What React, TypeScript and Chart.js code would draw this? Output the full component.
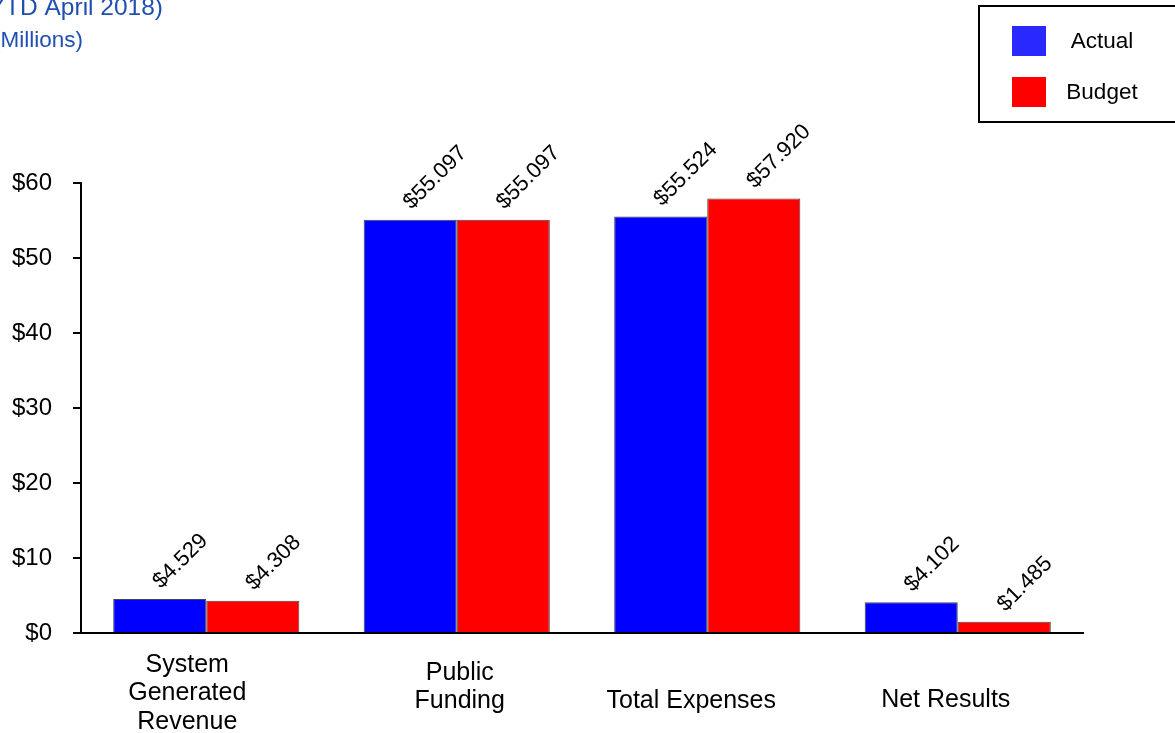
import React, { useEffect, useRef } from "react";
import { Chart, registerables } from "chart.js";

Chart.register(...registerables);

const categories: string[][] = [
  ["System", "Generated", "Revenue"],
  ["Public", "Funding"],
  ["Total Expenses"],
  ["Net Results"],
];
const actualValues = [4.529, 55.097, 55.524, 4.102];
const budgetValues = [4.308, 55.097, 57.92, 1.485];
const seriesNames = ["Actual", "Budget"];
const yTicks = [0, 10, 20, 30, 40, 50, 60];
const titleLines = ["YTD April 2018)", "(Millions)"];

// styles
const FONT = "'Liberation Sans', Arial, sans-serif";
const barColors = ["#0000ff", "#ff0000"];
const legendColors = ["#2828ff", "#ff0000"];
const labelTopOffsets = [32, 40, 68, 67];
const labelDx = [-19, 3, -16, -12];
const LINE_H = 28.5;

const fmt = (v: number) => "$" + v.toFixed(3);

export default function App() {
  const ref = useRef<HTMLCanvasElement | null>(null);

  useEffect(() => {
    if (!ref.current) return;

    const overlay = {
      id: "overlay",
      afterDraw(chart: any) {
        const ctx = chart.ctx as CanvasRenderingContext2D;
        const xs = chart.scales.x;
        const bottom = chart.chartArea.bottom;

        // title (partly cut off)
        ctx.save();
        ctx.fillStyle = "#1f4fb0";
        ctx.textAlign = "right";
        ctx.textBaseline = "alphabetic";
        ctx.font = `24.5px ${FONT}`;
        ctx.fillText(titleLines[0], 163, 15);
        ctx.font = `22.5px ${FONT}`;
        ctx.fillText(titleLines[1], 83, 47);
        ctx.restore();

        // category labels
        ctx.save();
        ctx.fillStyle = "#000";
        ctx.font = `25px ${FONT}`;
        ctx.textAlign = "center";
        ctx.textBaseline = "middle";
        categories.forEach((lines, i) => {
          const x = xs.getPixelForValue(i) + labelDx[i];
          lines.forEach((ln, j) => {
            ctx.fillText(ln, x, bottom + labelTopOffsets[i] + j * LINE_H);
          });
        });
        ctx.restore();

        // value labels
        ctx.save();
        ctx.fillStyle = "#000";
        ctx.font = `22px ${FONT}`;
        ctx.textAlign = "left";
        ctx.textBaseline = "middle";
        chart.data.datasets.forEach((ds: any, di: number) => {
          const meta = chart.getDatasetMeta(di);
          meta.data.forEach((bar: any, i: number) => {
            ctx.save();
            ctx.translate(bar.x - 3, bar.y - 14);
            ctx.rotate(-Math.PI / 4);
            ctx.fillText(fmt(ds.data[i]), 0, 0);
            ctx.restore();
          });
        });
        ctx.restore();

        // legend
        ctx.save();
        ctx.strokeStyle = "#000";
        ctx.lineWidth = 2;
        ctx.strokeRect(979, 6, 220, 116);
        ctx.font = `22.5px ${FONT}`;
        ctx.textAlign = "center";
        ctx.textBaseline = "middle";
        chart.data.datasets.forEach((ds: any, di: number) => {
          const y0 = 26 + di * 51;
          ctx.fillStyle = legendColors[di];
          ctx.fillRect(1012, y0, 34, 30);
          ctx.fillStyle = "#000";
          ctx.fillText(ds.label, 1102, y0 + 16);
        });
        ctx.restore();
      },
    };

    const chart = new Chart(ref.current, {
      type: "bar",
      data: {
        labels: categories.map((c) => c.join(" ")),
        datasets: [
          {
            label: seriesNames[0],
            data: actualValues,
            backgroundColor: barColors[0],
            borderColor: "#444",
            borderWidth: 1,
          },
          {
            label: seriesNames[1],
            data: budgetValues,
            backgroundColor: barColors[1],
            borderColor: "#444",
            borderWidth: 1,
          },
        ],
      },
      options: {
        responsive: false,
        animation: false,
        layout: { padding: { top: 183, right: 92, left: 0, bottom: 0 } },
        datasets: {
          bar: { barPercentage: 1, categoryPercentage: 0.743 },
        } as any,
        plugins: {
          legend: { display: false },
          tooltip: { enabled: false },
          title: { display: false },
        },
        scales: {
          x: {
            grid: { display: false },
            ticks: { display: false },
            border: { display: true, color: "#000", width: 2 },
            afterFit: (s: any) => {
              s.height = 100;
            },
          },
          y: {
            min: 0,
            max: 60,
            afterBuildTicks: (s: any) => {
              s.ticks = yTicks.map((v) => ({ value: v }));
            },
            ticks: {
              callback: (v: any) => "$" + v,
              color: "#000",
              font: { family: FONT, size: 24 },
              padding: 21,
            },
            grid: {
              drawOnChartArea: false,
              drawTicks: true,
              tickLength: 8,
              color: "#000",
              lineWidth: 2,
            },
            border: { display: true, color: "#000", width: 2 },
            afterFit: (s: any) => {
              s.width = 81;
            },
          },
        },
      },
      plugins: [overlay],
    });

    return () => chart.destroy();
  }, []);

  return (
    <div style={{ position: "absolute", left: 0, top: 0, width: 1175, height: 733, background: "#fff" }}>
      <canvas ref={ref} width={1175} height={733} style={{ display: "block" }} />
    </div>
  );
}
